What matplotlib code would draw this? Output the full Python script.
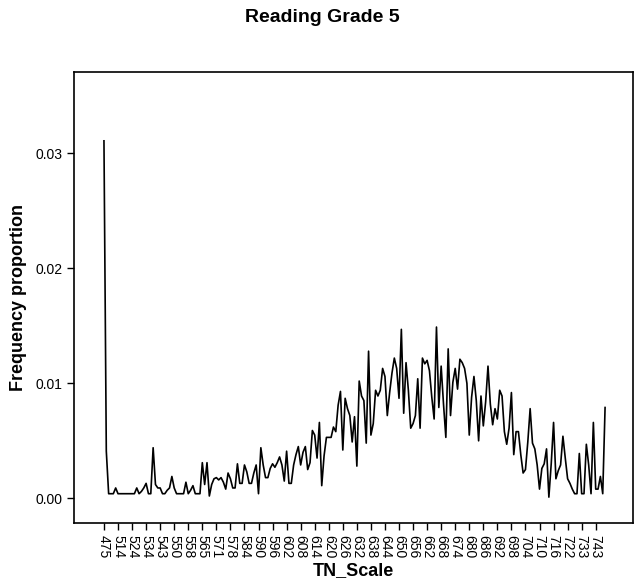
import matplotlib
matplotlib.use("Agg")
import matplotlib.pyplot as plt

plt.rcParams['font.family'] = ['Liberation Sans', 'DejaVu Sans']

# frequency proportion per TN_Scale score (215 score points, every 6th labelled)
freq = [
    0.0311, 0.0041, 0.0004, 0.0004, 0.0004, 0.0009, 0.0004, 0.0004, 0.0004, 0.0004,
    0.0004, 0.0004, 0.0004, 0.0004, 0.0009, 0.0004, 0.0006, 0.0009, 0.0013, 0.0004,
    0.0004, 0.0044, 0.0012, 0.0009, 0.0009, 0.0004, 0.0004, 0.0007, 0.0009, 0.0019,
    0.0009, 0.0004, 0.0004, 0.0004, 0.0004, 0.0014, 0.0004, 0.0007, 0.0011, 0.0004,
    0.0004, 0.0004, 0.0031, 0.0012, 0.0031, 0.0002, 0.0012, 0.0017, 0.0018, 0.0016,
    0.0018, 0.0014, 0.0008, 0.0022, 0.0017, 0.0009, 0.0009, 0.0030, 0.0013, 0.0013,
    0.0029, 0.0023, 0.0013, 0.0013, 0.0022, 0.0029, 0.0004, 0.0044, 0.0029, 0.0018,
    0.0018, 0.0026, 0.0030, 0.0027, 0.0031, 0.0036, 0.0029, 0.0015, 0.0041, 0.0013,
    0.0013, 0.0029, 0.0038, 0.0045, 0.0029, 0.0040, 0.0045, 0.0025, 0.0031, 0.0059,
    0.0055, 0.0035, 0.0066, 0.0011, 0.0037, 0.0053, 0.0053, 0.0053, 0.0062, 0.0058,
    0.0081, 0.0093, 0.0042, 0.0087, 0.0078, 0.0072, 0.0049, 0.0071, 0.0028, 0.0102,
    0.0089, 0.0085, 0.0048, 0.0128, 0.0055, 0.0065, 0.0094, 0.0089, 0.0094, 0.0113,
    0.0106, 0.0072, 0.0092, 0.0109, 0.0122, 0.0113, 0.0087, 0.0147, 0.0074, 0.0118,
    0.0094, 0.0061, 0.0065, 0.0072, 0.0104, 0.0061, 0.0122, 0.0117, 0.0120, 0.0111,
    0.0088, 0.0069, 0.0149, 0.0079, 0.0115, 0.0082, 0.0053, 0.0130, 0.0072, 0.0101,
    0.0113, 0.0095, 0.0121, 0.0118, 0.0113, 0.0100, 0.0055, 0.0088, 0.0106, 0.0085,
    0.0050, 0.0089, 0.0063, 0.0084, 0.0115, 0.0082, 0.0064, 0.0078, 0.0069, 0.0094,
    0.0089, 0.0058, 0.0047, 0.0061, 0.0092, 0.0038, 0.0058, 0.0058, 0.0038, 0.0022,
    0.0025, 0.0049, 0.0078, 0.0048, 0.0043, 0.0029, 0.0008, 0.0026, 0.0030, 0.0043,
    0.0001, 0.0030, 0.0066, 0.0017, 0.0024, 0.0029, 0.0054, 0.0035, 0.0017, 0.0013,
    0.0008, 0.0004, 0.0004, 0.0039, 0.0004, 0.0004, 0.0047, 0.0029, 0.0004, 0.0066,
    0.0008, 0.0008, 0.0019, 0.0004, 0.0079,
]

tick_labels = [
    '475', '514', '524', '534', '543', '550', '558', '565', '571', '578',
    '584', '590', '596', '602', '608', '614', '620', '626', '632', '638',
    '644', '650', '656', '662', '668', '674', '680', '686', '692', '698',
    '704', '710', '716', '722', '733', '743',
]
label_step = 6

fig = plt.figure(figsize=(6.34, 5.87), dpi=100)
ax = fig.add_axes([0.1167, 0.109, 0.882, 0.768])

ax.plot(range(len(freq)), freq, color='black', linewidth=1.2)

ax.set_xlim(-12.8, 226.0)
ax.set_ylim(-0.00215, 0.03707)

ax.set_xticks([i * label_step for i in range(len(tick_labels))])
ax.set_xticklabels(tick_labels, rotation=-90, fontsize=10)
ax.set_yticks([0.0, 0.01, 0.02, 0.03])
ax.set_yticklabels(['0.00', '0.01', '0.02', '0.03'], fontsize=10)
ax.tick_params(direction='out', length=5, width=1, color='black')

for side in ['left', 'bottom', 'top', 'right']:
    ax.spines[side].set_linewidth(1.2)

ax.set_xlabel('TN_Scale', fontsize=13, fontweight='bold', labelpad=3)
ax.set_ylabel('Frequency proportion', fontsize=13, fontweight='bold', labelpad=6)

fig.text(0.509, 0.971, 'Reading Grade 5', fontsize=14, fontweight='bold',
         ha='center', va='center')

fig.savefig('out.png', dpi=100)
